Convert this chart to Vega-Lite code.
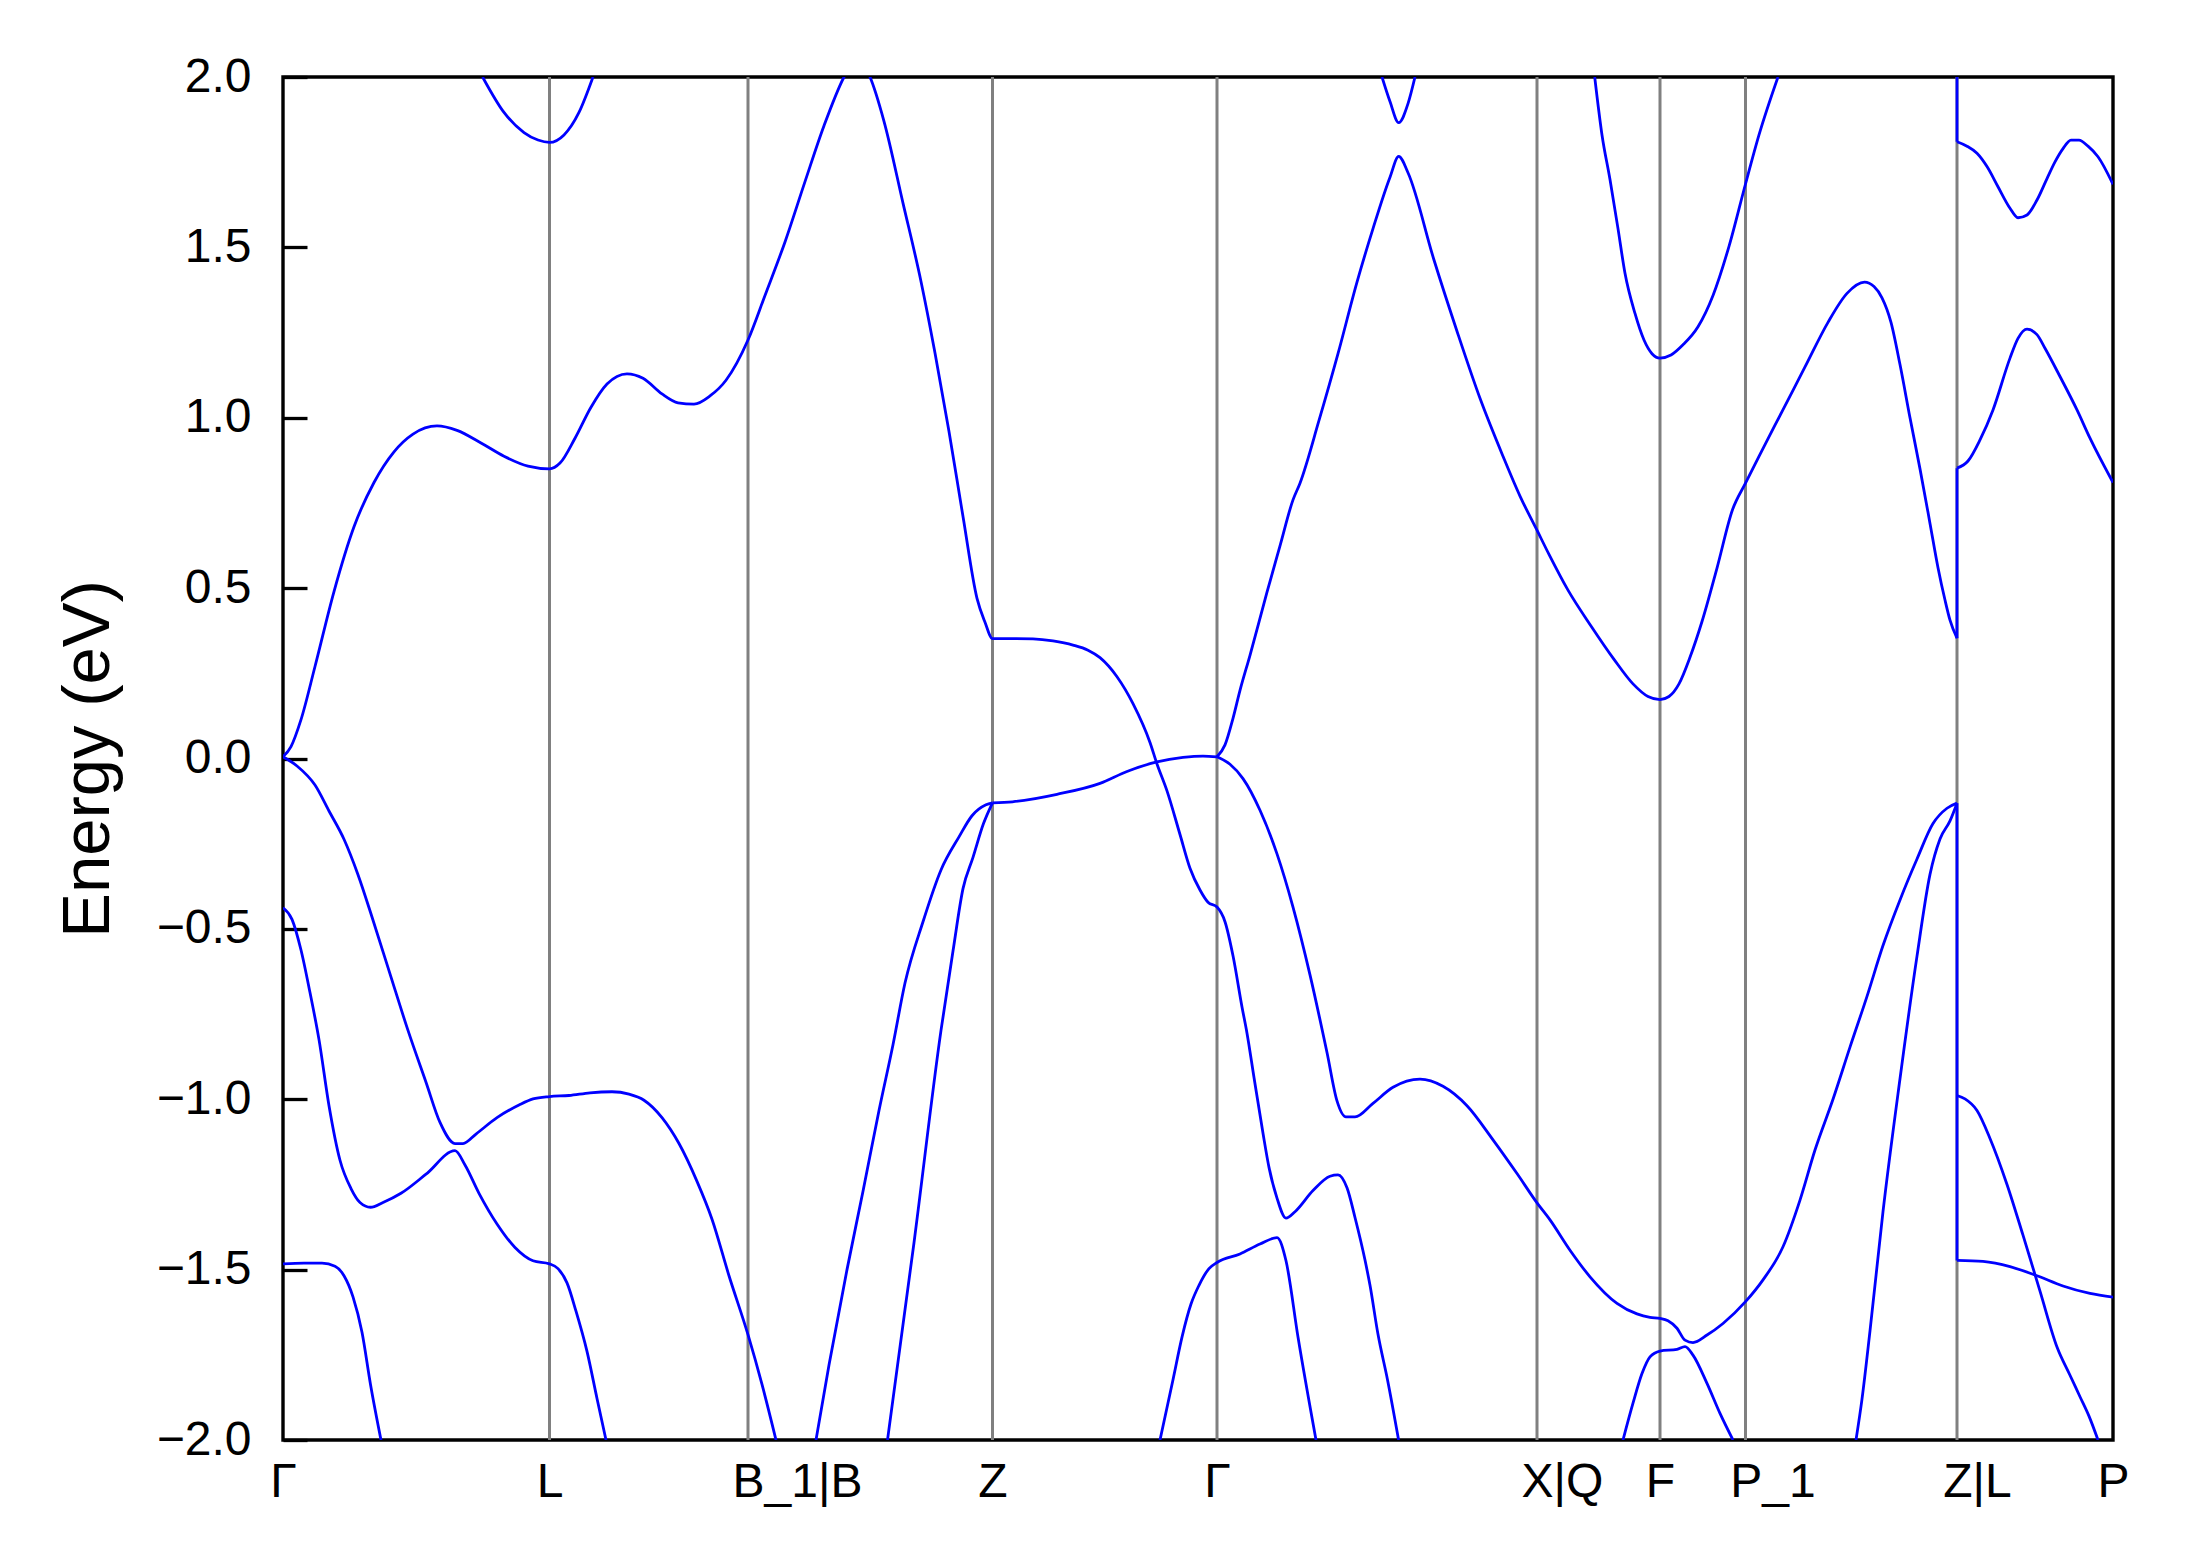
{
"$schema": "https://vega.github.io/schema/vega-lite/v6.json",
"width": 1830,
"height": 1363,
"autosize": {"type": "none"},
"padding": {"left": 283, "top": 77, "right": 76, "bottom": 127},
"background": "white",
"config": {"view": {"stroke": "black", "strokeWidth": 3.4}, "font": "Liberation Sans"},
"datasets": {
"sym": [{"k":266.5},{"k":465},{"k":709.5},{"k":934},{"k":1254},{"k":1377},{"k":1462.5},{"k":1674}],
"bands": [
{"b":"c1","k":0,"e":0.005},{"b":"c1","k":8,"e":0.035},{"b":"c1","k":18,"e":0.114},{"b":"c1","k":32,"e":0.27},{"b":"c1","k":51,"e":0.49},{"b":"c1","k":71,"e":0.68},{"b":"c1","k":91,"e":0.81},{"b":"c1","k":111,"e":0.9},{"b":"c1","k":130,"e":0.952},{"b":"c1","k":154,"e":0.976},{"b":"c1","k":174,"e":0.963},{"b":"c1","k":198,"e":0.926},{"b":"c1","k":221,"e":0.887},{"b":"c1","k":245,"e":0.858},{"b":"c1","k":266.5,"e":0.85},{"b":"c1","k":277,"e":0.867},{"b":"c1","k":292,"e":0.94},{"b":"c1","k":308,"e":1.031},{"b":"c1","k":324,"e":1.099},{"b":"c1","k":344,"e":1.129},{"b":"c1","k":360,"e":1.116},{"b":"c1","k":379,"e":1.07},{"b":"c1","k":395,"e":1.044},{"b":"c1","k":411,"e":1.04},{"b":"c1","k":427,"e":1.064},{"b":"c1","k":443,"e":1.11},{"b":"c1","k":465,"e":1.228},{"b":"c1","k":482,"e":1.359},{"b":"c1","k":502,"e":1.516},{"b":"c1","k":522,"e":1.693},{"b":"c1","k":541,"e":1.857},{"b":"c1","k":561,"e":2.0},{"b":"c1","k":574,"e":2.06},{"b":"c1","k":587,"e":2.0},{"b":"c1","k":601,"e":1.87},{"b":"c1","k":620,"e":1.63},{"b":"c1","k":638,"e":1.4},{"b":"c1","k":652,"e":1.19},{"b":"c1","k":666,"e":0.96},{"b":"c1","k":680,"e":0.71},{"b":"c1","k":694,"e":0.47},{"b":"c1","k":702,"e":0.4},{"b":"c1","k":709.5,"e":0.352},{"b":"c1","k":730,"e":0.352},{"b":"c1","k":750,"e":0.351},{"b":"c1","k":770,"e":0.345},{"b":"c1","k":790,"e":0.333},{"b":"c1","k":805,"e":0.318},{"b":"c1","k":817,"e":0.296},{"b":"c1","k":834,"e":0.24},{"b":"c1","k":850,"e":0.161},{"b":"c1","k":867,"e":0.047},{"b":"c1","k":874,"e":-0.016},{"b":"c1","k":884,"e":-0.095},{"b":"c1","k":897,"e":-0.223},{"b":"c1","k":907,"e":-0.322},{"b":"c1","k":917,"e":-0.386},{"b":"c1","k":925,"e":-0.422},{"b":"c1","k":934,"e":-0.436},{"b":"c1","k":942,"e":-0.479},{"b":"c1","k":950,"e":-0.579},{"b":"c1","k":959,"e":-0.729},{"b":"c1","k":964,"e":-0.806},{"b":"c1","k":971,"e":-0.936},{"b":"c1","k":980,"e":-1.1},{"b":"c1","k":986,"e":-1.2},{"b":"c1","k":994,"e":-1.29},{"b":"c1","k":1003,"e":-1.349},{"b":"c1","k":1012,"e":-1.33},{"b":"c1","k":1030,"e":-1.268},{"b":"c1","k":1047,"e":-1.226},{"b":"c1","k":1055,"e":-1.222},{"b":"c1","k":1064,"e":-1.26},{"b":"c1","k":1072,"e":-1.347},{"b":"c1","k":1082,"e":-1.472},{"b":"c1","k":1087,"e":-1.546},{"b":"c1","k":1095,"e":-1.69},{"b":"c1","k":1104.5,"e":-1.823},{"b":"c1","k":1115.6,"e":-2.0},
{"b":"v1","k":0,"e":0.005},{"b":"v1","k":14,"e":-0.022},{"b":"v1","k":32,"e":-0.078},{"b":"v1","k":46,"e":-0.154},{"b":"v1","k":61,"e":-0.237},{"b":"v1","k":75,"e":-0.341},{"b":"v1","k":89,"e":-0.465},{"b":"v1","k":107,"e":-0.632},{"b":"v1","k":125,"e":-0.798},{"b":"v1","k":143,"e":-0.95},{"b":"v1","k":157,"e":-1.068},{"b":"v1","k":172,"e":-1.13},{"b":"v1","k":180,"e":-1.13},{"b":"v1","k":193,"e":-1.102},{"b":"v1","k":214,"e":-1.054},{"b":"v1","k":236,"e":-1.017},{"b":"v1","k":250,"e":-0.999},{"b":"v1","k":266.5,"e":-0.992},{"b":"v1","k":286,"e":-0.989},{"b":"v1","k":307,"e":-0.981},{"b":"v1","k":329,"e":-0.978},{"b":"v1","k":346,"e":-0.985},{"b":"v1","k":361,"e":-1.003},{"b":"v1","k":379,"e":-1.054},{"b":"v1","k":396,"e":-1.13},{"b":"v1","k":414,"e":-1.241},{"b":"v1","k":429,"e":-1.352},{"b":"v1","k":446,"e":-1.518},{"b":"v1","k":465,"e":-1.691},{"b":"v1","k":479,"e":-1.837},{"b":"v1","k":493,"e":-2.0},
{"b":"v2","k":0,"e":-0.438},{"b":"v2","k":9,"e":-0.472},{"b":"v2","k":18,"e":-0.562},{"b":"v2","k":27,"e":-0.687},{"b":"v2","k":36,"e":-0.825},{"b":"v2","k":46,"e":-1.019},{"b":"v2","k":57,"e":-1.179},{"b":"v2","k":68,"e":-1.262},{"b":"v2","k":77,"e":-1.303},{"b":"v2","k":87.5,"e":-1.317},{"b":"v2","k":100,"e":-1.303},{"b":"v2","k":118,"e":-1.276},{"b":"v2","k":143,"e":-1.22},{"b":"v2","k":172,"e":-1.151},{"b":"v2","k":182,"e":-1.193},{"b":"v2","k":196,"e":-1.276},{"b":"v2","k":214,"e":-1.366},{"b":"v2","k":232,"e":-1.435},{"b":"v2","k":250,"e":-1.474},{"b":"v2","k":266.5,"e":-1.483},{"b":"v2","k":275,"e":-1.497},{"b":"v2","k":284,"e":-1.539},{"b":"v2","k":293,"e":-1.622},{"b":"v2","k":304,"e":-1.74},{"b":"v2","k":314,"e":-1.878},{"b":"v2","k":323,"e":-2.0},
{"b":"v3","k":0,"e":-1.483},{"b":"v3","k":21,"e":-1.481},{"b":"v3","k":39,"e":-1.481},{"b":"v3","k":52,"e":-1.49},{"b":"v3","k":61,"e":-1.518},{"b":"v3","k":70,"e":-1.58},{"b":"v3","k":79,"e":-1.684},{"b":"v3","k":87.5,"e":-1.837},{"b":"v3","k":98,"e":-2.0},
{"b":"t0","k":199.6,"e":2.0},{"b":"t0","k":221,"e":1.896},{"b":"t0","k":241,"e":1.837},{"b":"t0","k":255,"e":1.815},{"b":"t0","k":266.5,"e":1.808},{"b":"t0","k":281,"e":1.83},{"b":"t0","k":296,"e":1.896},{"b":"t0","k":310,"e":2.0},
{"b":"v4","k":533,"e":-2.0},{"b":"v4","k":546,"e":-1.78},{"b":"v4","k":564,"e":-1.5},{"b":"v4","k":580,"e":-1.27},{"b":"v4","k":596,"e":-1.033},{"b":"v4","k":610,"e":-0.84},{"b":"v4","k":622,"e":-0.659},{"b":"v4","k":640,"e":-0.479},{"b":"v4","k":658,"e":-0.327},{"b":"v4","k":676,"e":-0.23},{"b":"v4","k":689,"e":-0.168},{"b":"v4","k":703,"e":-0.136},{"b":"v4","k":709.5,"e":-0.13},
{"b":"v5","k":604.5,"e":-2.0},{"b":"v5","k":631,"e":-1.421},{"b":"v5","k":658,"e":-0.798},{"b":"v5","k":670,"e":-0.565},{"b":"v5","k":680,"e":-0.382},{"b":"v5","k":690,"e":-0.29},{"b":"v5","k":700.5,"e":-0.191},{"b":"v5","k":709.5,"e":-0.13},
{"b":"v6","k":709.5,"e":-0.13},{"b":"v6","k":729.5,"e":-0.127},{"b":"v6","k":774,"e":-0.105},{"b":"v6","k":817,"e":-0.073},{"b":"v6","k":844,"e":-0.038},{"b":"v6","k":874,"e":-0.01},{"b":"v6","k":900,"e":0.003},{"b":"v6","k":920,"e":0.007},{"b":"v6","k":934,"e":0.005},
{"b":"c2","k":934,"e":0.005},{"b":"c2","k":942,"e":0.04},{"b":"c2","k":950,"e":0.118},{"b":"c2","k":957,"e":0.2},{"b":"c2","k":967,"e":0.303},{"b":"c2","k":984,"e":0.488},{"b":"c2","k":997,"e":0.624},{"b":"c2","k":1010,"e":0.759},{"b":"c2","k":1017,"e":0.808},{"b":"c2","k":1036,"e":0.992},{"b":"c2","k":1055,"e":1.188},{"b":"c2","k":1074,"e":1.398},{"b":"c2","k":1090,"e":1.555},{"b":"c2","k":1107,"e":1.706},{"b":"c2","k":1115.7,"e":1.767},{"b":"c2","k":1125,"e":1.719},{"b":"c2","k":1151,"e":1.463},{"b":"c2","k":1174,"e":1.254},{"b":"c2","k":1197,"e":1.057},{"b":"c2","k":1220,"e":0.887},{"b":"c2","k":1237,"e":0.77},{"b":"c2","k":1254,"e":0.67},{"b":"c2","k":1266,"e":0.599},{"b":"c2","k":1285,"e":0.494},{"b":"c2","k":1308,"e":0.389},{"b":"c2","k":1331,"e":0.291},{"b":"c2","k":1350,"e":0.219},{"b":"c2","k":1365,"e":0.182},{"b":"c2","k":1377,"e":0.173},{"b":"c2","k":1386,"e":0.182},{"b":"c2","k":1396,"e":0.219},{"b":"c2","k":1407,"e":0.297},{"b":"c2","k":1419,"e":0.402},{"b":"c2","k":1434,"e":0.559},{"b":"c2","k":1449.5,"e":0.73},{"b":"c2","k":1462.5,"e":0.808},{"b":"c2","k":1476,"e":0.887},{"b":"c2","k":1499,"e":1.018},{"b":"c2","k":1522,"e":1.149},{"b":"c2","k":1545,"e":1.28},{"b":"c2","k":1564,"e":1.365},{"b":"c2","k":1581.5,"e":1.398},{"b":"c2","k":1591,"e":1.385},{"b":"c2","k":1599,"e":1.352},{"b":"c2","k":1608,"e":1.28},{"b":"c2","k":1617,"e":1.156},{"b":"c2","k":1627,"e":1.0},{"b":"c2","k":1637,"e":0.85},{"b":"c2","k":1647,"e":0.69},{"b":"c2","k":1655,"e":0.56},{"b":"c2","k":1662,"e":0.465},{"b":"c2","k":1667,"e":0.406},{"b":"c2","k":1674,"e":0.353},
{"b":"v7","k":934,"e":0.005},{"b":"v7","k":947,"e":-0.017},{"b":"v7","k":960,"e":-0.059},{"b":"v7","k":977,"e":-0.152},{"b":"v7","k":994,"e":-0.28},{"b":"v7","k":1010,"e":-0.436},{"b":"v7","k":1027,"e":-0.635},{"b":"v7","k":1044,"e":-0.863},{"b":"v7","k":1054,"e":-1.005},{"b":"v7","k":1063,"e":-1.052},{"b":"v7","k":1072,"e":-1.052},{"b":"v7","k":1090,"e":-1.012},{"b":"v7","k":1110,"e":-0.965},{"b":"v7","k":1137,"e":-0.941},{"b":"v7","k":1160,"e":-0.962},{"b":"v7","k":1184,"e":-1.019},{"b":"v7","k":1210,"e":-1.119},{"b":"v7","k":1234,"e":-1.218},{"b":"v7","k":1254,"e":-1.304},{"b":"v7","k":1267,"e":-1.354},{"b":"v7","k":1287,"e":-1.443},{"b":"v7","k":1307,"e":-1.521},{"b":"v7","k":1334,"e":-1.599},{"b":"v7","k":1354,"e":-1.63},{"b":"v7","k":1367,"e":-1.64},{"b":"v7","k":1377,"e":-1.643},{"b":"v7","k":1385,"e":-1.65},{"b":"v7","k":1394,"e":-1.672},{"b":"v7","k":1402,"e":-1.707},{"b":"v7","k":1410,"e":-1.714},{"b":"v7","k":1424,"e":-1.692},{"b":"v7","k":1440,"e":-1.658},{"b":"v7","k":1462.5,"e":-1.594},{"b":"v7","k":1480,"e":-1.53},{"b":"v7","k":1500,"e":-1.433},{"b":"v7","k":1517,"e":-1.296},{"b":"v7","k":1532,"e":-1.149},{"b":"v7","k":1550,"e":-1.0},{"b":"v7","k":1567,"e":-0.847},{"b":"v7","k":1584,"e":-0.698},{"b":"v7","k":1600,"e":-0.549},{"b":"v7","k":1617,"e":-0.415},{"b":"v7","k":1634,"e":-0.295},{"b":"v7","k":1650,"e":-0.191},{"b":"v7","k":1664,"e":-0.146},{"b":"v7","k":1674,"e":-0.131},
{"b":"v8","k":877,"e":-2.0},{"b":"v8","k":890,"e":-1.823},{"b":"v8","k":899,"e":-1.698},{"b":"v8","k":908,"e":-1.601},{"b":"v8","k":916,"e":-1.546},{"b":"v8","k":926,"e":-1.497},{"b":"v8","k":934,"e":-1.479},{"b":"v8","k":957,"e":-1.454},{"b":"v8","k":977,"e":-1.425},{"b":"v8","k":994,"e":-1.406},{"b":"v8","k":1003,"e":-1.474},{"b":"v8","k":1015,"e":-1.698},{"b":"v8","k":1033,"e":-2.0},
{"b":"c3","k":1099,"e":2.0},{"b":"c3","k":1107,"e":1.928},{"b":"c3","k":1115.7,"e":1.866},{"b":"c3","k":1125,"e":1.922},{"b":"c3","k":1132,"e":2.0},
{"b":"c4","k":1311.7,"e":2.0},{"b":"c4","k":1319,"e":1.83},{"b":"c4","k":1327,"e":1.699},{"b":"c4","k":1335,"e":1.555},{"b":"c4","k":1342,"e":1.424},{"b":"c4","k":1352,"e":1.306},{"b":"c4","k":1361,"e":1.228},{"b":"c4","k":1369,"e":1.188},{"b":"c4","k":1377,"e":1.175},{"b":"c4","k":1388,"e":1.184},{"b":"c4","k":1400,"e":1.214},{"b":"c4","k":1415,"e":1.267},{"b":"c4","k":1430,"e":1.359},{"b":"c4","k":1446,"e":1.503},{"b":"c4","k":1462.5,"e":1.686},{"b":"c4","k":1476,"e":1.83},{"b":"c4","k":1495,"e":2.0},
{"b":"v9","k":1340,"e":-2.0},{"b":"v9","k":1350,"e":-1.892},{"b":"v9","k":1359,"e":-1.805},{"b":"v9","k":1367,"e":-1.756},{"b":"v9","k":1377,"e":-1.739},{"b":"v9","k":1394,"e":-1.734},{"b":"v9","k":1402,"e":-1.726},{"b":"v9","k":1410,"e":-1.751},{"b":"v9","k":1424,"e":-1.834},{"b":"v9","k":1437,"e":-1.922},{"b":"v9","k":1450,"e":-2.0},
{"b":"v10","k":1573,"e":-2.0},{"b":"v10","k":1579,"e":-1.88},{"b":"v10","k":1587,"e":-1.68},{"b":"v10","k":1600,"e":-1.33},{"b":"v10","k":1617,"e":-0.94},{"b":"v10","k":1634,"e":-0.58},{"b":"v10","k":1647,"e":-0.34},{"b":"v10","k":1657,"e":-0.236},{"b":"v10","k":1667,"e":-0.183},{"b":"v10","k":1674,"e":-0.131},
{"b":"r1","k":1674,"e":1.81},{"b":"r1","k":1684,"e":1.797},{"b":"r1","k":1694,"e":1.776},{"b":"r1","k":1704,"e":1.737},{"b":"r1","k":1715,"e":1.678},{"b":"r1","k":1727,"e":1.615},{"b":"r1","k":1735,"e":1.587},{"b":"r1","k":1744,"e":1.595},{"b":"r1","k":1754,"e":1.639},{"b":"r1","k":1764,"e":1.702},{"b":"r1","k":1772,"e":1.751},{"b":"r1","k":1780,"e":1.79},{"b":"r1","k":1788,"e":1.815},{"b":"r1","k":1796,"e":1.815},{"b":"r1","k":1805,"e":1.797},{"b":"r1","k":1815,"e":1.766},{"b":"r1","k":1830,"e":1.685},
{"b":"r2","k":1674,"e":0.852},{"b":"r2","k":1685,"e":0.873},{"b":"r2","k":1697,"e":0.935},{"b":"r2","k":1710,"e":1.023},{"b":"r2","k":1727,"e":1.175},{"b":"r2","k":1735,"e":1.233},{"b":"r2","k":1744,"e":1.26},{"b":"r2","k":1754,"e":1.244},{"b":"r2","k":1762,"e":1.204},{"b":"r2","k":1777,"e":1.121},{"b":"r2","k":1794,"e":1.023},{"b":"r2","k":1807,"e":0.94},{"b":"r2","k":1830,"e":0.81},
{"b":"r3","k":1674,"e":-0.989},{"b":"r3","k":1682,"e":-0.999},{"b":"r3","k":1694,"e":-1.033},{"b":"r3","k":1707,"e":-1.115},{"b":"r3","k":1724,"e":-1.25},{"b":"r3","k":1740,"e":-1.399},{"b":"r3","k":1757,"e":-1.563},{"b":"r3","k":1774,"e":-1.727},{"b":"r3","k":1787,"e":-1.81},{"b":"r3","k":1797,"e":-1.873},{"b":"r3","k":1806,"e":-1.93},{"b":"r3","k":1815,"e":-2.0},
{"b":"r4","k":1674,"e":-1.473},{"b":"r4","k":1700,"e":-1.476},{"b":"r4","k":1727,"e":-1.491},{"b":"r4","k":1754,"e":-1.518},{"b":"r4","k":1780,"e":-1.548},{"b":"r4","k":1807,"e":-1.57},{"b":"r4","k":1830,"e":-1.581},
{"b":"j1","k":1674,"e":2.25},{"b":"j1","k":1674,"e":1.81},
{"b":"j2","k":1674,"e":0.353},{"b":"j2","k":1674,"e":0.852},
{"b":"j3","k":1674,"e":-0.131},{"b":"j3","k":1674,"e":-1.473}
]
},
"layer": [
{
"data": {"name": "sym"},
"mark": {"type": "rule", "color": "#808080", "strokeWidth": 3},
"encoding": {
"x": {"field": "k", "type": "quantitative", "scale": {"domain": [0, 1830], "nice": false, "zero": false},
"axis": {"values": [0, 266.5, 465, 709.5, 934, 1254, 1377, 1462.5, 1674, 1830], "labelExpr": "datum.value == 0 ? 'Γ' : datum.value == 266.5 ? 'L' : datum.value == 465 ? 'B_1|B' : datum.value == 709.5 ? 'Z' : datum.value == 934 ? 'Γ' : datum.value == 1254 ? 'X|Q' : datum.value == 1377 ? 'F' : datum.value == 1462.5 ? 'P_1' : datum.value == 1674 ? 'Z|L' : 'P'", "title": null, "grid": false, "domain": false, "ticks": false, "labelFontSize": 48, "labelFont": "Liberation Sans", "labelColor": "black", "labelPadding": 18, "labelFlush": false, "labelOverlap": false, "labelBound": false, "labelOffset": {"condition": [{"test": "datum.value == 465", "value": 49}, {"test": "datum.value == 1254", "value": 25}, {"test": "datum.value == 1462.5", "value": 27}, {"test": "datum.value == 1674", "value": 20}], "value": 0}}}
}
},
{
"mark": {"type": "rule", "color": "black", "strokeWidth": 3.6, "strokeDash": [15.4, 6.7]},
"encoding": {"y": {"datum": 0, "type": "quantitative"}}
},
{
"data": {"name": "bands"},
"mark": {"type": "line", "color": "#0000ff", "strokeWidth": 2.8, "clip": true, "interpolate": "monotone"},
"encoding": {
"x": {"field": "k", "type": "quantitative"},
"y": {"field": "e", "type": "quantitative", "scale": {"domain": [-2, 2], "nice": false, "zero": false},
"axis": {"values": [-2, -1.5, -1, -0.5, 0, 0.5, 1, 1.5, 2], "format": ".1f", "title": "Energy (eV)", "grid": false, "domain": false, "ticks": true, "tickSize": -24, "tickWidth": 3.3, "tickColor": "black", "labelFontSize": 48, "labelFont": "Liberation Sans", "labelColor": "black", "labelPadding": 56, "labelOverlap": false, "titleFontSize": 67, "titleFont": "Liberation Sans", "titleFontWeight": "normal", "titleColor": "black", "titleX": -161}},
"detail": {"field": "b"}
}
}
]
}
